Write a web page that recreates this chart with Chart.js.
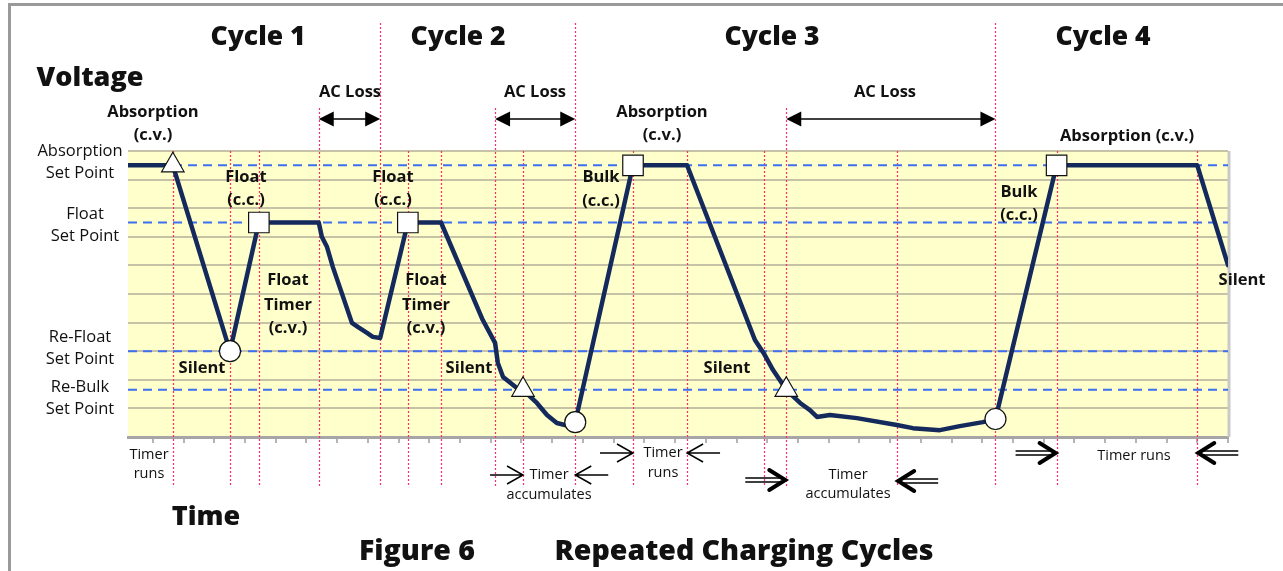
<!DOCTYPE html>
<html>
<head>
<meta charset="utf-8">
<title>Repeated Charging Cycles</title>
<script src="https://cdn.jsdelivr.net/npm/chart.js@4.4.1/dist/chart.umd.min.js"></script>
<style>
  html, body { margin: 0; padding: 0; background: #fff; }
  #wrap { width: 1283px; height: 571px; position: relative; }
</style>
</head>
<body>
<div id="wrap"><canvas id="cycles"></canvas></div>
<script>
// time runs in tick divisions, voltage in grid divisions
var setPointNames = [['Absorption', 'Set Point'], ['Float', 'Set Point'], ['Re-Float', 'Set Point'], ['Re-Bulk', 'Set Point']];
var setPointLevels = [9.5, 7.5, 3.0, 1.65];

var voltageTime = [-0.81, 0.65, 2.51, 3.45, 5.4, 5.5, 5.67, 5.86, 6.15, 6.48, 6.67, 6.97, 7.16, 7.4,
  8.3, 9.38, 10.74, 11.14, 11.23, 11.4, 11.85, 12.05, 12.5, 12.83, 13.15, 13.41, 13.75,
  15.63, 17.39, 19.6, 19.88, 20.19, 20.62, 21.07, 21.39, 21.62, 22.04, 22.92, 24.22, 24.74,
  25.62, 26.27, 27.02, 27.43, 29.42, 34.0, 35.0];
var voltageLevel = [9.5, 9.5, 3.0, 7.5, 7.5, 7.0, 6.64, 5.94, 5.03, 3.99, 3.85, 3.64, 3.5, 3.46,
  7.5, 7.5, 4.09, 3.29, 2.59, 2.1, 1.71, 1.65, 1.19, 0.77, 0.49, 0.42, 0.52,
  9.5, 9.5, 3.39, 2.94, 2.34, 1.65, 1.19, 0.94, 0.7, 0.77, 0.66, 0.42, 0.31,
  0.24, 0.38, 0.52, 0.63, 9.5, 9.5, 6.01];

var triangleTime = [0.65, 12.05, 20.62];
var triangleLevel = [9.5, 1.65, 1.65];
var circleTime = [2.51, 13.75, 27.43];
var circleLevel = [3.0, 0.52, 0.63];
var squareTime = [3.45, 8.3, 15.63, 29.42];
var squareLevel = [7.5, 7.5, 9.5, 9.5];

var eventTimes = [0.65, 2.51, 3.45, 5.4, 7.4, 8.3, 9.38, 11.14, 12.05, 13.75, 15.63, 17.39, 19.88, 20.62, 24.23, 27.43, 29.42, 34.0];
var cycleStartTimes = [7.4, 13.75, 27.43];
var acLossFrom = [5.4, 11.14, 20.62];
var acLossTo = [7.4, 13.75, 27.43];

var xMin = -0.81, xMax = 35;

var HEAVY = '800 26.5px "Open Sans"';
var CAPTION = '800 28.5px "Open Sans"';
var BOLD = 'bold 16.5px "Open Sans"';
var PLAIN = '16.5px "Open Sans"';
var SMALL = '14.5px "Open Sans"';

// set point captions: centre x and offset of the first line from the level
var captionX = [80, 85, 80, 80];
var captionShift = [-14, -8, -14, -3];

// free text: [text, centre x, centre y, font]
var notes = [
  ['Cycle 1', 258, 37, HEAVY], ['Cycle 2', 458, 37, HEAVY], ['Cycle 3', 772, 37, HEAVY], ['Cycle 4', 1103, 37, HEAVY],
  ['Voltage', 90, 78, '800 27px "Open Sans"'], ['Time', 206, 517, '800 27px "Open Sans"'],
  ['Figure 6', 417, 552, CAPTION], ['Repeated Charging Cycles', 744, 552, CAPTION],
  ['Absorption', 153, 112, BOLD], ['(c.v.)', 153, 135, BOLD],
  ['AC Loss', 350, 92, BOLD], ['AC Loss', 535, 92, BOLD], ['AC Loss', 885, 92, BOLD],
  ['Absorption', 662, 112, BOLD], ['(c.v.)', 662, 135, BOLD],
  ['Absorption (c.v.)', 1127, 136, BOLD],
  ['Float', 246, 177, BOLD], ['(c.c.)', 246, 200, BOLD],
  ['Float', 393, 177, BOLD], ['(c.c.)', 393, 200, BOLD],
  ['Float', 288, 280, BOLD], ['Timer', 288, 305, BOLD], ['(c.v.)', 288, 328, BOLD],
  ['Float', 426, 280, BOLD], ['Timer', 426, 305, BOLD], ['(c.v.)', 426, 328, BOLD],
  ['Silent', 202, 368, BOLD], ['Silent', 469, 368, BOLD], ['Silent', 727, 368, BOLD], ['Silent', 1242, 280, BOLD],
  ['Bulk', 601, 177, BOLD], ['(c.c.)', 601, 201, BOLD],
  ['Bulk', 1019, 192, BOLD], ['(c.c.)', 1019, 215, BOLD],
  ['Timer', 149, 455, SMALL], ['runs', 149, 474, SMALL],
  ['Timer', 549, 475, SMALL], ['accumulates', 549, 495, SMALL],
  ['Timer', 663, 453, SMALL], ['runs', 663, 473, SMALL],
  ['Timer', 848, 475, SMALL], ['accumulates', 848, 494, SMALL],
  ['Timer runs', 1134, 456, SMALL]
];

// timer arrows point at an event line: [time, direction, y, kind]
var timerArrows = [
  [12.05, 1, 475, 'thin'], [13.75, -1, 475, 'thin'],
  [15.63, 1, 453, 'thin'], [17.39, -1, 453, 'thin'],
  [20.62, 1, 480, 'double'], [24.23, -1, 481, 'double'],
  [29.42, 1, 453, 'double'], [34.0, -1, 453, 'double']
];

function pairs(xs, ys) {
  return xs.map(function (x, i) { return { x: x, y: ys[i] }; });
}

function markerSet(xs, ys, style, radius) {
  return {
    type: 'scatter', data: pairs(xs, ys), order: 0,
    pointStyle: style, pointRadius: radius,
    backgroundColor: '#ffffff', borderColor: '#111111', borderWidth: 1.2
  };
}

function drawThinArrow(ctx, tip, y, dir) {
  var tail = tip - dir * 33;
  ctx.strokeStyle = '#000';
  ctx.lineWidth = 1.5;
  ctx.beginPath();
  ctx.moveTo(tail, y); ctx.lineTo(tip, y);
  ctx.moveTo(tip - dir * 16, y - 9); ctx.lineTo(tip, y); ctx.lineTo(tip - dir * 16, y + 9);
  ctx.stroke();
}

function drawDoubleArrow(ctx, tip, y, dir) {
  var tail = tip - dir * 41;
  ctx.strokeStyle = '#000';
  ctx.lineWidth = 1.4;
  ctx.beginPath();
  ctx.moveTo(tail, y - 2); ctx.lineTo(tip - dir * 6, y - 2);
  ctx.moveTo(tail, y + 2); ctx.lineTo(tip - dir * 6, y + 2);
  ctx.stroke();
  ctx.lineWidth = 4;
  ctx.lineCap = 'round';
  ctx.beginPath();
  ctx.moveTo(tip - dir * 17, y - 10); ctx.lineTo(tip - dir * 1, y); ctx.lineTo(tip - dir * 17, y + 10);
  ctx.stroke();
  ctx.lineCap = 'butt';
}

function drawSpanArrow(ctx, a, b, y) {
  ctx.strokeStyle = '#000';
  ctx.fillStyle = '#000';
  ctx.lineWidth = 1.5;
  ctx.beginPath();
  ctx.moveTo(a + 10, y); ctx.lineTo(b - 10, y);
  ctx.stroke();
  [[a, 1], [b, -1]].forEach(function (end) {
    ctx.beginPath();
    ctx.moveTo(end[0], y);
    ctx.lineTo(end[0] + end[1] * 15, y - 7.5);
    ctx.lineTo(end[0] + end[1] * 15, y + 7.5);
    ctx.closePath();
    ctx.fill();
  });
}

var figurePlugin = {
  id: 'figure',
  beforeDraw: function (chart) {
    var a = chart.chartArea, ctx = chart.ctx;
    ctx.save();
    ctx.fillStyle = '#ffffcc';
    ctx.fillRect(a.left, a.top, a.right - a.left, a.bottom - a.top);
    ctx.restore();
  },
  beforeDatasetsDraw: function (chart) {
    var a = chart.chartArea, ctx = chart.ctx, xs = chart.scales.x;
    ctx.save();
    // plot frame, right side
    ctx.strokeStyle = '#c9c9c9';
    ctx.lineWidth = 3;
    ctx.beginPath();
    ctx.moveTo(a.right + 1, a.top); ctx.lineTo(a.right + 1, a.bottom);
    ctx.stroke();
    // event lines
    ctx.strokeStyle = '#ff2d6a';
    ctx.lineWidth = 1.2;
    ctx.setLineDash([2, 2]);
    eventTimes.forEach(function (t) {
      var px = Math.round(xs.getPixelForValue(t)) + 0.5;
      var top = a.top;
      if (cycleStartTimes.indexOf(t) >= 0) top = 23;
      else if (acLossFrom.indexOf(t) >= 0) top = 108;
      ctx.beginPath();
      ctx.moveTo(px, top); ctx.lineTo(px, 487);
      ctx.stroke();
    });
    ctx.restore();
  },
  afterDraw: function (chart) {
    var ctx = chart.ctx, xs = chart.scales.x, ys = chart.scales.y;
    ctx.save();
    // outer figure frame
    ctx.strokeStyle = '#9a9a9a';
    ctx.lineWidth = 3;
    ctx.beginPath();
    ctx.moveTo(9.5, 575); ctx.lineTo(9.5, 4.5); ctx.lineTo(1290, 4.5);
    ctx.stroke();

    ctx.textAlign = 'center';
    ctx.textBaseline = 'middle';
    ctx.fillStyle = '#111';
    ctx.font = PLAIN;
    setPointLevels.forEach(function (v, i) {
      var py = ys.getPixelForValue(v) + captionShift[i];
      ctx.fillText(setPointNames[i][0], captionX[i], py);
      ctx.fillText(setPointNames[i][1], captionX[i], py + 22);
    });
    notes.forEach(function (n) {
      ctx.font = n[3];
      ctx.fillText(n[0], n[1], n[2]);
    });

    acLossFrom.forEach(function (t, i) {
      drawSpanArrow(ctx, xs.getPixelForValue(t), xs.getPixelForValue(acLossTo[i]), 119);
    });
    timerArrows.forEach(function (ar) {
      var tip = xs.getPixelForValue(ar[0]);
      if (ar[3] === 'thin') drawThinArrow(ctx, tip, ar[2], ar[1]);
      else drawDoubleArrow(ctx, tip, ar[2], ar[1]);
    });
    ctx.restore();
  }
};

var datasets = [
  markerSet(triangleTime, triangleLevel, 'triangle', 13),
  markerSet(circleTime, circleLevel, 'circle', 10.5),
  markerSet(squareTime, squareLevel, 'rect', 14.5),
  {
    type: 'line', data: pairs(voltageTime, voltageLevel), order: 1,
    borderColor: '#152a5c', borderWidth: 4.5, pointRadius: 0, tension: 0,
    borderJoinStyle: 'round', borderCapStyle: 'round'
  }
];
setPointLevels.forEach(function (v) {
  datasets.push({
    type: 'line', data: [{ x: xMin, y: v }, { x: xMax, y: v }], order: 2,
    borderColor: '#3d6ff0', borderWidth: 2, borderDash: [9, 6], pointRadius: 0
  });
});

new Chart(document.getElementById('cycles'), {
  data: { datasets: datasets },
  options: {
    responsive: true,
    maintainAspectRatio: false,
    animation: false,
    events: [],
    layout: { padding: { left: 128, right: 55, top: 151, bottom: 128 } },
    plugins: { legend: { display: false }, tooltip: { enabled: false } },
    scales: {
      x: {
        type: 'linear', min: xMin, max: xMax,
        ticks: { display: false, stepSize: 1, includeBounds: false },
        grid: { drawOnChartArea: false, drawTicks: true, tickLength: 6, color: '#b5b5b5', lineWidth: 2 },
        border: { display: true, color: '#a6a6a6', width: 3 },
        afterFit: function (scale) { scale.height = 6; }
      },
      y: {
        type: 'linear', min: 0, max: 10,
        ticks: { display: false, stepSize: 1 },
        grid: { drawTicks: false, color: '#c6c2a6', lineWidth: 2 },
        border: { display: false },
        afterFit: function (scale) { scale.width = 0; }
      }
    }
  },
  plugins: [figurePlugin]
});
</script>
</body>
</html>
